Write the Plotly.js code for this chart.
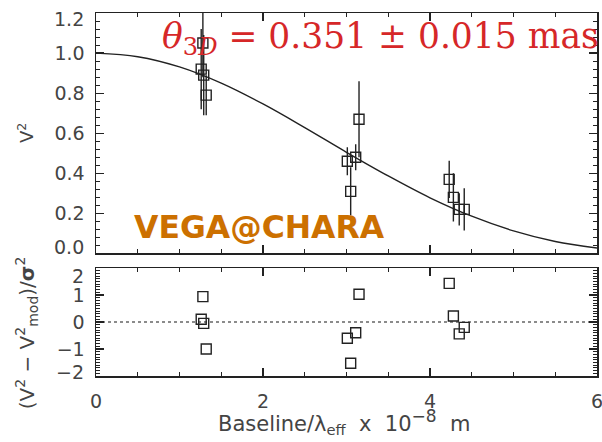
<!DOCTYPE html>
<html>
<head>
<meta charset="utf-8">
<script src="https://cdn.plot.ly/plotly-3.0.1.min.js"></script>
<style>html,body{margin:0;padding:0;background:#fff;}#chart{width:602px;height:442px;}</style>
</head>
<body>
<div id="chart"></div>
<script>
// Baselines (units of 1e8 rad^-1) shared by the two panels
const baseline = [1.28, 1.26, 1.29, 1.32, 3.15, 3.11, 3.01, 3.05, 4.23, 4.28, 4.35, 4.41];
// Squared visibilities and their errors (top panel)
const vis2 = [1.05, 0.92, 0.89, 0.79, 0.67, 0.48, 0.46, 0.31, 0.37, 0.28, 0.22, 0.22];
const vis2Err = [0.17, 0.20, 0.20, 0.10, 0.19, 0.065, 0.07, 0.12, 0.093, 0.12, 0.08, 0.105];
// Normalised residuals (bottom panel)
const residual = [0.94, 0.10, -0.05, -1.0, 1.03, -0.40, -0.60, -1.53, 1.43, 0.22, -0.44, -0.20];
// Uniform-disk model curve
const modelX = [0, 0.5, 1, 1.5, 2, 2.5, 3, 3.5, 4, 4.5, 5, 5.5, 6];
const modelV2 = [1.0, 0.982, 0.931, 0.850, 0.746, 0.628, 0.505, 0.387, 0.278, 0.186, 0.113, 0.060, 0.027];
// Zero reference line of residual panel
const zeroX = [0, 6];
const zeroY = [0, 0];
// Tick values and labels
const xTicks = [0, 2, 4, 6];
const v2Ticks = [0, 0.2, 0.4, 0.6, 0.8, 1.0, 1.2];
const resTicks = [-2, -1, 0, 1, 2];
// End labels are drawn nudged inside the frame (as in the original IDL plot)
const v2EndLabels = [{label: '0.0', at: 0.032}, {label: '1.2', at: 1.172}];
const resEndLabels = [{label: '2', at: 1.72}, {label: '\u22122', at: -1.85}];

const ink = '#222';
const labelColor = '#444';
const markerStyle = {symbol: 'square-open', size: 10, color: ink, line: {width: 1.4, color: ink}};

const traces = [
  {x: modelX, y: modelV2, xaxis: 'x2', yaxis: 'y', mode: 'lines', line: {color: ink, width: 1.4, shape: 'spline'}, hoverinfo: 'skip'},
  {x: baseline, y: vis2, xaxis: 'x2', yaxis: 'y', mode: 'markers', marker: markerStyle,
   error_y: {type: 'data', array: vis2Err, visible: true, color: ink, thickness: 1.4, width: 0}},
  {x: zeroX, y: zeroY, xaxis: 'x', yaxis: 'y2', mode: 'lines', line: {color: '#666', width: 1.5, dash: 'dot'}},
  {x: baseline, y: residual, xaxis: 'x', yaxis: 'y2', mode: 'markers', marker: markerStyle}
];

const tickFont = {family: 'DejaVu Sans', size: 19, color: labelColor};
const axBase = {
  showgrid: false, zeroline: false, showline: true, linecolor: ink, linewidth: 1.5,
  mirror: 'ticks', ticks: 'inside', ticklen: 8, tickwidth: 1.2, tickcolor: ink,
  tickfont: tickFont, ticklabeloverflow: 'allow'
};

const fmtRes = v => v < 0 ? '\u2212' + Math.abs(v) : String(v);

const endAnn = (items, yref) => items.map(o => ({
  xref: 'paper', yref: yref, x: -0.019, y: o.at, xanchor: 'right', yanchor: 'middle',
  showarrow: false, text: o.label, font: tickFont
}));

const layout = {
  width: 602, height: 442,
  margin: {l: 96, r: 5, t: 13, b: 66},
  paper_bgcolor: '#fff', plot_bgcolor: '#fff',
  showlegend: false,
  xaxis: Object.assign({}, axBase, {anchor: 'y2', range: [0, 6], tickvals: xTicks, ticktext: xTicks.map(String),
    ticklabelstandoff: 8,
    minor: {ticks: 'inside', ticklen: 4, dtick: 0.5, tickcolor: ink, tickwidth: 1}}),
  xaxis2: Object.assign({}, axBase, {anchor: 'y', matches: 'x', range: [0, 6], tickvals: xTicks, showticklabels: false,
    minor: {ticks: 'inside', ticklen: 4, dtick: 0.5, tickcolor: ink, tickwidth: 1}}),
  yaxis: Object.assign({}, axBase, {anchor: 'x2', domain: [0.3375, 1], range: [0, 1.2], tickvals: v2Ticks,
    ticktext: v2Ticks.map(v => (v === 0 || v === 1.2) ? '' : v.toFixed(1)), ticklabelstandoff: 6,
    minor: {ticks: 'inside', ticklen: 4, dtick: 0.04, tickcolor: ink, tickwidth: 1}}),
  yaxis2: Object.assign({}, axBase, {anchor: 'x', domain: [0, 0.2975], range: [-2, 2], tickvals: resTicks,
    ticktext: resTicks.map(v => Math.abs(v) === 2 ? '' : fmtRes(v)), ticklabelstandoff: 6,
    minor: {ticks: 'inside', ticklen: 4, dtick: 0.1, tickcolor: ink, tickwidth: 1}}),
  annotations: [
    {xref: 'paper', yref: 'paper', x: 0.128, y: 0.931, xanchor: 'left', yanchor: 'middle', showarrow: false,
     text: '<i>θ</i><sub>3<i>D</i></sub> = 0.351 ± 0.015 mas',
     font: {family: 'DejaVu Serif', size: 34.5, color: '#d62728'}},
    {xref: 'paper', yref: 'paper', x: 0.072, y: 0.4105, xanchor: 'left', yanchor: 'middle', showarrow: false,
     text: '<b>VEGA@CHARA</b>', font: {family: 'DejaVu Sans', size: 31.5, color: '#cc7000'}},
    {xref: 'paper', yref: 'paper', x: -0.14, y: 0.669, xanchor: 'center', yanchor: 'middle', showarrow: false,
     textangle: -90, text: 'V<sup>2</sup>', font: {family: 'DejaVu Sans', size: 18, color: labelColor}},
    {xref: 'paper', yref: 'paper', x: -0.138, y: 0.12, xanchor: 'center', yanchor: 'middle', showarrow: false,
     textangle: -90, text: '(V<sup>2</sup> \u2212 V<sup>2</sup><sub>mod</sub>)/<b>σ</b><sup>2</sup>',
     font: {family: 'DejaVu Sans', size: 20, color: labelColor}},
    {xref: 'paper', yref: 'paper', x: 0.495, y: -0.128, xanchor: 'center', yanchor: 'middle', showarrow: false,
     text: 'Baseline/λ<sub>eff</sub>\u00a0 x\u00a0 10<sup><span style="font-size:17px">\u22128</span></sup>\u00a0 m',
     font: {family: 'DejaVu Sans', size: 21, color: labelColor}}
  ].concat(endAnn(v2EndLabels, 'y'), endAnn(resEndLabels, 'y2'))
};

Plotly.newPlot('chart', traces, layout, {displayModeBar: false, staticPlot: true});
</script>
</body>
</html>
